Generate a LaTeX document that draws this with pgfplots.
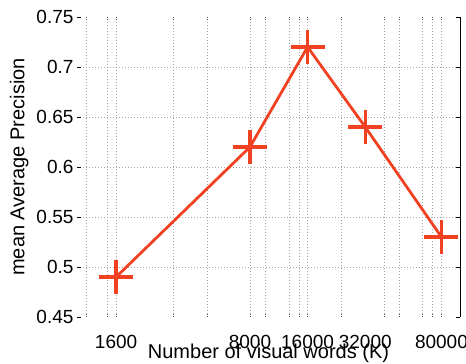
\documentclass[border=0pt]{standalone}
\usepackage{fontspec}
\setmainfont{Liberation Sans}
\usepackage{pgfplots}
\pgfplotsset{compat=1.18}
\definecolor{lred}{RGB}{240,66,34}
\begin{document}
\begin{tikzpicture}
\begin{axis}[
  name=ax,
  scale only axis,
  width=383pt, height=300pt,
  xmode=log,
  xmin=1000, xmax=100000,
  ymin=0.45, ymax=0.75,
  axis line style={draw=none},
  /pgf/number format/assume math mode=true,
  font=\fontsize{19}{22}\selectfont,
  xtick={1600,8000,16000,32000,80000},
  xticklabels={1600,8000,16000,32000,80000},
  major x tick style={draw=none},
  minor xtick={1114,1434,1600,3172,4774,8000,9588,12794,14430,16000,23900,40100,48030,63330,71420,80000},
  xminorgrids=true,
  minor x tick style={gray!70!black, line width=0.6pt, dash pattern=on 1pt off 1pt},
  minor tick length=4pt,
  ytick={0.45,0.5,0.55,0.6,0.65,0.7,0.75},
  yticklabels={0.45,0.5,0.55,0.6,0.65,0.7,0.75},
  extra y ticks={0.5,0.55,0.6,0.65,0.7},
  extra y tick labels={},
  extra y tick style={grid=major},
  major y tick style={black, line width=0.5pt},
  major tick length=4pt,
  tick align=inside,
  grid style={dash pattern=on 0.8pt off 2.2pt, gray!70, line width=0.6pt},
  xticklabel style={anchor=base, yshift=-31pt},
  xlabel={Number of visual words (K)},
  ylabel={mean Average Precision},
  label style={font=\fontsize{20}{24}\selectfont},
  xlabel style={at={(axis description cs:0.5,-0.14)}, anchor=base},
  ylabel style={at={(axis description cs:-0.151,0.5)}, anchor=center},
  clip=false,
]
\addplot[lred, line width=2.8pt, mark=+, mark size=17pt, mark options={line width=3.4pt}]
  coordinates {(1600,0.49) (8000,0.62) (16000,0.72) (32000,0.64) (80000,0.53)};
\draw[black, line width=0.8pt] (rel axis cs:1,0) -- (rel axis cs:1,1);
\end{axis}
\pgfresetboundingbox
\path[use as bounding box] ([shift={(-77pt,-47pt)}]ax.south west) rectangle ([shift={(6pt,17pt)}]ax.north east);
\end{tikzpicture}
\end{document}
